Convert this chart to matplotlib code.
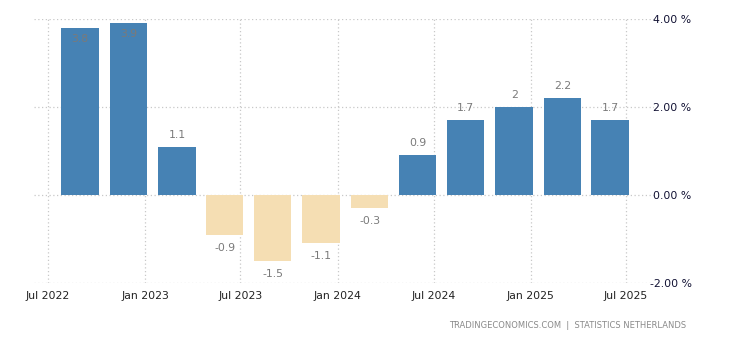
import matplotlib
matplotlib.use("Agg")
import matplotlib.pyplot as plt
import matplotlib.dates as mdates
import pandas as pd
import numpy as np

quarters = ["2022Q3", "2022Q4", "2023Q1", "2023Q2", "2023Q3", "2023Q4",
            "2024Q1", "2024Q2", "2024Q3", "2024Q4", "2025Q1", "2025Q2"]
values = [3.8, 3.9, 1.1, -0.9, -1.5, -1.1, -0.3, 0.9, 1.7, 2, 2.2, 1.7]
value_labels = ["3.8", "3.9", "1.1", "-0.9", "-1.5", "-1.1", "-0.3", "0.9", "1.7", "2", "2.2", "1.7"]
xtick_dates = ["2022-07-01", "2023-01-01", "2023-07-01", "2024-01-01",
               "2024-07-01", "2025-01-01", "2025-07-01"]
xtick_labels = ["Jul 2022", "Jan 2023", "Jul 2023", "Jan 2024", "Jul 2024", "Jan 2025", "Jul 2025"]
yticks = [-2, 0, 2, 4]
ytick_labels = ["-2.00 %", "0.00 %", "2.00 %", "4.00 %"]

POS = "#4682B4"
NEG = "#F5DEB3"

fig = plt.figure(figsize=(7.3, 3.4), dpi=100)
ax = fig.add_axes([34/730, 1-283/340, (654-34)/730, (283-19)/340])

starts = pd.PeriodIndex(quarters, freq="Q").start_time
centers = [mdates.date2num(s + pd.Timedelta(days=61)) for s in starts]
colors = [POS if v >= 0 else NEG for v in values]
ax.bar(centers, values, width=71, color=colors, zorder=2)

for c, v, lab in zip(centers, values, value_labels):
    if v >= 0:
        off = -11 if v > 3.4 else 12
    else:
        off = -13
    ax.annotate(lab, (c, v), xytext=(0, off), textcoords="offset pixels",
                ha="center", va="center", fontsize=7.8, color="#7a7a7a", zorder=3)

x0 = mdates.date2num(pd.Timestamp("2022-07-01"))
px_per_day = (626 - 48) / 1096.0
ax.set_xlim(x0 - 14/px_per_day, x0 + (654-48)/px_per_day)
ax.set_ylim(-2, 4)

xt = [mdates.date2num(pd.Timestamp(d)) for d in xtick_dates]
ax.set_xticks(xt)
ax.set_xticklabels(xtick_labels, fontsize=7.8, color="#222222")
ax.set_yticks(yticks)
ax.yaxis.tick_right()
ax.set_yticklabels(ytick_labels, fontsize=7.8, color="#111133", ha="right")
ax.tick_params(axis="y", length=0, pad=27)
ax.tick_params(axis="x", length=0, pad=6)

ax.grid(True, linestyle=(0, (1, 2)), color="#c8c8c8", linewidth=0.9, zorder=0)
ax.set_axisbelow(True)
for s in ax.spines.values():
    s.set_visible(False)

fig.text(686/730, 1-325/340, "TRADINGECONOMICS.COM  |  STATISTICS NETHERLANDS",
         ha="right", va="center", fontsize=6, color="#8a8a8a")

fig.savefig("out.png", dpi=100)
